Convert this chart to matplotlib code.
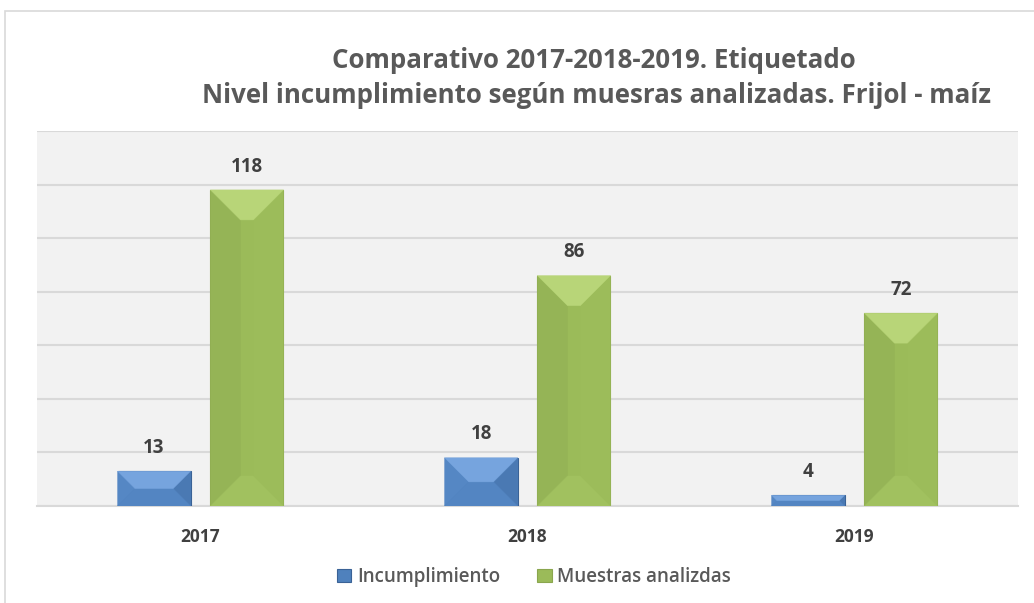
import numpy as np
import matplotlib
matplotlib.use("Agg")
from matplotlib import pyplot as plt
from matplotlib.patches import Rectangle, Polygon
from matplotlib.transforms import IdentityTransform

years = ["2017", "2018", "2019"]
incumplimiento = [13, 18, 4]
muestras = [118, 86, 72]
series_names = ["Incumplimiento", "Muestras analizdas"]

BLUE = "#4F81BD"
GREEN = "#9BBB59"
TEXT = "#404040"

# bevel shades: top, bottom, left, right
BLUE_BEVEL = ["#76A4DE", "#5385C2", "#5587C4", "#4A79B3"]
GREEN_BEVEL = ["#B8D578", "#A1C15F", "#95B456", "#9CBC5A"]

plt.rcParams["font.family"] = ["Open Sans", "DejaVu Sans"]

fig = plt.figure(figsize=(10.34, 6.03), dpi=100)
ax = fig.add_axes([37 / 1034, 1 - 506 / 603, 981 / 1034, 375 / 603])

# chart border
fig.patches.append(Rectangle((5 / 1034, -0.1), 1.2, 1 - 11 / 603 + 0.1,
                             transform=fig.transFigure, fill=False,
                             edgecolor="#D9D9D9", linewidth=1.2))

x = np.arange(len(years))
w = 0.223
off = 0.142

ax.set_xlim(-0.5, 2.5)
ax.set_ylim(0, 140)

b1 = ax.bar(x - off, incumplimiento, w, color=BLUE, edgecolor="#3A6296",
            linewidth=0.8, label=series_names[0], zorder=3)
b2 = ax.bar(x + off, muestras, w, color=GREEN, edgecolor="#8AA64E",
            linewidth=0.8, label=series_names[1], zorder=3)


def bevel(rect, shades, depth=30):
    (x0, y0), (x1, y1) = ax.transData.transform(
        [(rect.get_x(), 0), (rect.get_x() + rect.get_width(), rect.get_height())])
    d = min(depth, (y1 - y0) / 2, (x1 - x0) / 2)
    top = [(x0, y1), (x1, y1), (x1 - d, y1 - d), (x0 + d, y1 - d)]
    bot = [(x0, y0), (x1, y0), (x1 - d, y0 + d), (x0 + d, y0 + d)]
    left = [(x0, y0), (x0 + d, y0 + d), (x0 + d, y1 - d), (x0, y1)]
    right = [(x1, y0), (x1 - d, y0 + d), (x1 - d, y1 - d), (x1, y1)]
    for pts, c in zip([left, right, bot, top], [shades[2], shades[3], shades[1], shades[0]]):
        ax.add_patch(Polygon(pts, closed=True, facecolor=c, edgecolor=c,
                             linewidth=0.3, transform=IdentityTransform(),
                             zorder=3.5))


for r in b1:
    bevel(r, BLUE_BEVEL)
for r in b2:
    bevel(r, GREEN_BEVEL)

for bars in (b1, b2):
    for r in bars:
        ax.text(r.get_x() + r.get_width() / 2, r.get_height() + 5,
                f"{int(r.get_height())}", ha="center", va="bottom",
                fontsize=13.5, fontweight="bold", color=TEXT)

ax.set_yticks(np.arange(0, 141, 20))
ax.yaxis.grid(True, color="#D9D9D9", linewidth=1.5, zorder=0)
ax.set_axisbelow(True)
ax.tick_params(axis="y", left=False, labelleft=False)
ax.tick_params(axis="x", bottom=False, pad=12)
ax.set_xticks(x)
ax.set_xticklabels(years, fontsize=12.5, fontweight="bold", color=TEXT)
ax.set_facecolor("#F2F2F2")
for s in ["left", "right", "top"]:
    ax.spines[s].set_visible(False)
ax.spines["bottom"].set_color("#D9D9D9")
ax.spines["bottom"].set_linewidth(1.5)

fig.text(594 / 1034, 1 - 60 / 603, "Comparativo 2017-2018-2019. Etiquetado",
         ha="center", va="center", fontsize=18.6, fontweight="bold", color="#595959")
fig.text(596 / 1034, 1 - 96 / 603,
         "Nivel incumplimiento según muesras analizadas. Frijol - maíz",
         ha="center", va="center", fontsize=18.6, fontweight="bold", color="#595959")

fig.legend(handles=[b1, b2], labels=series_names, loc="center",
           bbox_to_anchor=(534 / 1034, 1 - 577 / 603), ncol=2, frameon=False,
           prop={"size": 13.5, "weight": "semibold"}, handlelength=0.75,
           handleheight=0.75, handletextpad=0.3, columnspacing=2.0,
           labelcolor="#595959")

fig.savefig("out.png", dpi=100)
